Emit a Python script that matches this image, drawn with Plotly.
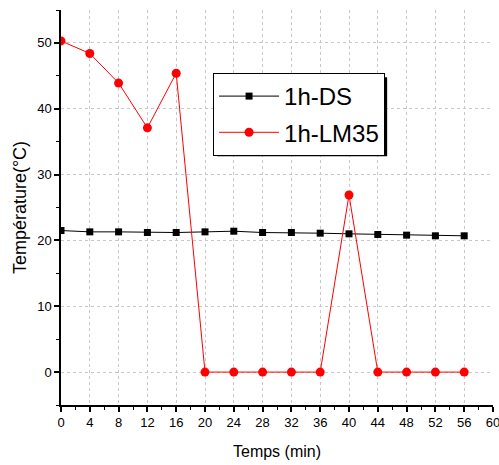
import plotly.graph_objects as go

time_min = [0, 4, 8, 12, 16, 20, 24, 28, 32, 36, 40, 44, 48, 52, 56]
ds_temp = [21.5, 21.3, 21.3, 21.2, 21.2, 21.3, 21.4, 21.2, 21.2, 21.1, 21.0, 20.9, 20.8, 20.7, 20.7]
lm35_temp = [50.3, 48.4, 43.9, 37.1, 45.4, 0, 0, 0, 0, 0, 26.9, 0, 0, 0, 0]
x_ticks = list(range(0, 61, 4))
y_ticks = [0, 10, 20, 30, 40, 50]

fig = go.Figure()
fig.add_trace(go.Scatter(x=time_min, y=ds_temp, name="1h-DS", mode="lines+markers",
                         legendgroup="a",
                         line=dict(color="black", width=1),
                         marker=dict(symbol="square", size=7, color="black")))
fig.add_trace(go.Scatter(x=time_min, y=lm35_temp, name="1h-LM35", mode="lines+markers",
                         legendgroup="b",
                         line=dict(color="red", width=1),
                         marker=dict(symbol="circle", size=9, color="red")))

font = "Liberation Sans, Arial, sans-serif"
# legend shadow
fig.add_shape(type="rect", xref="paper", yref="paper", x0=0.361, x1=0.755, y0=0.630, y1=0.830,
              fillcolor="black", line=dict(width=0), layer="above")
fig.update_layout(
    width=499, height=465,
    margin=dict(l=61, r=6, t=10, b=60, autoexpand=False),
    plot_bgcolor="white", paper_bgcolor="white",
    font=dict(family=font, color="black", size=13),
    showlegend=True,
    legend=dict(x=0.352, y=0.8405, xanchor="left", yanchor="top",
                bgcolor="white", bordercolor="black", borderwidth=1,
                font=dict(size=24, family=font), itemwidth=60,
                tracegroupgap=2),
    xaxis=dict(range=[0, 60], tickvals=x_ticks, showline=True, linecolor="black", linewidth=1.5,
               ticks="outside", ticklen=5, tickwidth=1.5, tickcolor="black",
               showgrid=True, gridcolor="#c8c8c8", griddash="dot", gridwidth=1,
               zeroline=False, mirror=False, ticklabeloverflow="allow", automargin=False,
               minor=dict(dtick=2, ticks="outside", ticklen=3, tickwidth=1, tickcolor="black", showgrid=False),
               title=dict(text="Temps (min)", font=dict(size=16), standoff=16)),
    yaxis=dict(range=[-5, 55], tickvals=y_ticks, showline=True, linecolor="black", linewidth=1.5,
               ticks="outside", ticklen=5, tickwidth=1.5, tickcolor="black",
               showgrid=True, gridcolor="#c8c8c8", griddash="dot", gridwidth=1,
               zeroline=False, mirror=False, automargin=False,
               minor=dict(dtick=5, ticks="outside", ticklen=3, tickwidth=1, tickcolor="black", showgrid=False),
               title=dict(text="Température(°C)", font=dict(size=18), standoff=6)),
)
fig.write_html("out.html")
